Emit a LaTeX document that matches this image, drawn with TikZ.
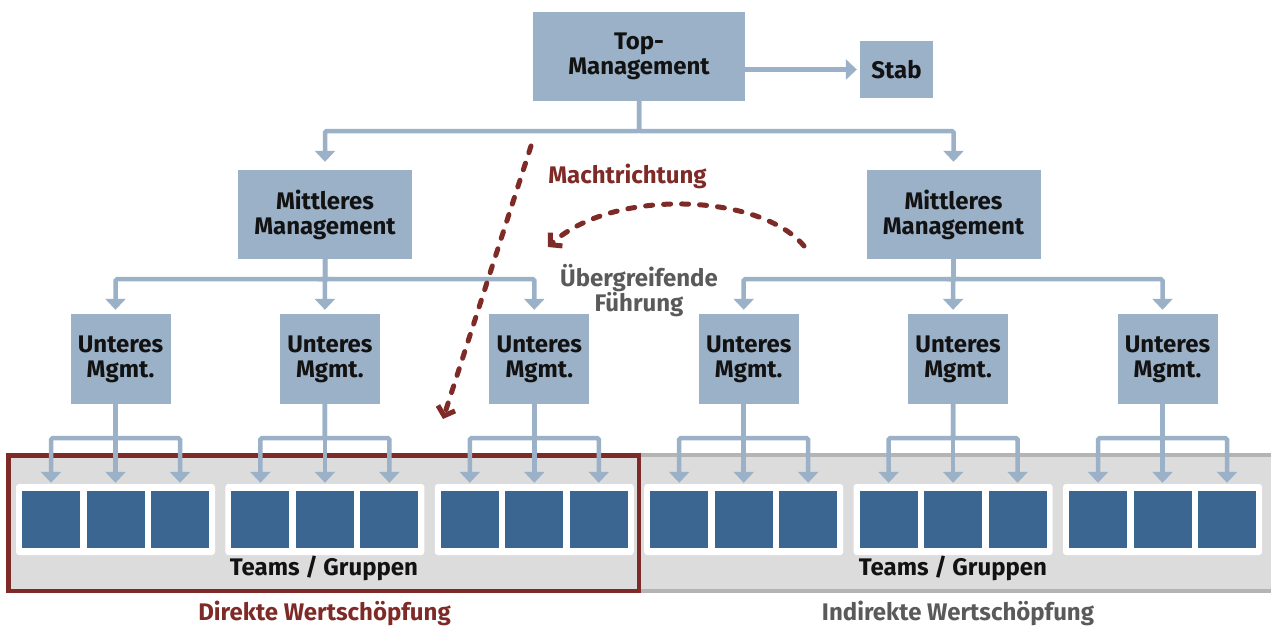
\documentclass[tikz,border=0pt]{standalone}
\usepackage{fontspec}
\setmainfont{Fira Sans}
\usetikzlibrary{arrows.meta,calc}

\definecolor{boxblue}{HTML}{9BB1C8}
\definecolor{teamblue}{HTML}{3B6691}
\definecolor{bandgray}{HTML}{DCDCDC}
\definecolor{bandedge}{HTML}{B4B4B4}
\definecolor{darkred}{HTML}{7E2A27}
\definecolor{labelgray}{HTML}{5A5A5A}

\begin{document}
\begin{tikzpicture}[x=1pt,y=-1pt,
  font=\bfseries\fontsize{24}{25}\selectfont,
  mgmt/.style={fill=boxblue, inner sep=0pt, align=center, text=black!93},
  uboxst/.style={mgmt, minimum width=100pt, minimum height=90pt},
  conn/.style={draw=boxblue, line width=4.5pt, rounded corners=1.5pt,
    -{Triangle[width=20pt,length=11pt]}},
  teambox/.style={fill=teamblue, minimum width=58pt, minimum height=57pt, inner sep=0pt},
  groupbox/.style={fill=white, rounded corners=3pt, minimum width=199pt,
    minimum height=71pt, inner sep=0pt},
  power/.style={draw=darkred, line width=5pt, dash pattern=on 7pt off 11pt,
    line cap=round, -{Straight Barb[length=8pt,width=18pt]}}
]
\useasboundingbox (0,0) rectangle (1271,626);

% grey band holding all teams, with the frame of the direct value chain
\fill[bandgray] (6,453) rectangle (1280,593);
\draw[bandedge, line width=4pt] (6,455) -- (1280,455) (6,591) -- (1280,591);
\draw[darkred, line width=4.5pt] (8.25,455.25) rectangle (638.75,590.75);

% management levels
\node[mgmt, minimum width=212pt, minimum height=89pt] (top) at (639,56.5) {Top-\\Management};
\node[mgmt, minimum width=73pt, minimum height=57pt] (stab) at (896.5,69.5) {Stab};
\node[mgmt, minimum width=174pt, minimum height=89pt] (m1) at (325,214.5) {Mittleres\\Management};
\node[mgmt, minimum width=174pt, minimum height=89pt] (m2) at (953.5,214.5) {Mittleres\\Management};

\foreach \k in {0,...,5}{
  \pgfmathsetmacro{\sx}{115.5+209.4*\k}
  \node[uboxst] (u\k) at (\sx+5,359) {Unteres\\Mgmt.};
  \node[groupbox] (g\k) at (\sx,519.5) {};
  \node[teambox] (t\k a) at (\sx-64.5,519.5) {};
  \node[teambox] (t\k b) at (\sx,519.5) {};
  \node[teambox] (t\k c) at (\sx+64.5,519.5) {};
}

% reporting lines
\draw[conn, shorten >=3pt] (top.east |- stab.west) -- (stab.west);
\draw[conn, shorten >=8pt] (top.south) -- (639,131) -| (m1.north);
\draw[conn, shorten >=8pt] (top.south) -- (639,131) -| (m2.north);
\foreach \m/\a/\b/\c in {m1/u0/u1/u2, m2/u3/u4/u5}{
  \draw[conn, shorten >=4pt] (\m.south) -- ++(0,20) -| ($(\a.north)+(-5,0)$);
  \draw[conn, shorten >=4pt] (\m.south) -- ++(0,20) -| ($(\b.north)+(-5,0)$);
  \draw[conn, shorten >=4pt] (\m.south) -- ++(0,20) -| ($(\c.north)+(-5,0)$);
}
\foreach \k in {0,...,5}{
  \draw[conn, shorten >=8pt] ($(u\k.south)+(-5,0)$) -- ++(0,34) -| (t\k a.north);
  \draw[conn, shorten >=8pt] ($(u\k.south)+(-5,0)$) -- (t\k b.north);
  \draw[conn, shorten >=8pt] ($(u\k.south)+(-5,0)$) -- ++(0,34) -| (t\k c.north);
}

% direction of power and cross-line leadership
\coordinate (ps) at (531,146);
\coordinate (pe) at (443,419);
\draw[power] (ps) -- (pe);
\coordinate (cs) at (804,246);
\coordinate (ce) at (548,247);
\draw[power] (cs) .. controls (760,193) and (612,188) .. (ce);

\node[text=darkred, anchor=base] (macht) at (627.5,183) {Machtrichtung};
\node[text=labelgray, align=center] (ueber) at (639,291) {Übergreifende\\Führung};

% labels of the team band
\node[anchor=base, text=black!93] (teams1) at (324,575) {Teams / Gruppen};
\node[anchor=base, text=black!93] (teams2) at (953,575) {Teams / Gruppen};
\node[anchor=base, text=darkred] (direkt) at (324.5,620) {Direkte Wertschöpfung};
\node[anchor=base, text=labelgray] (indirekt) at (958,620) {Indirekte Wertschöpfung};
\end{tikzpicture}
\end{document}
